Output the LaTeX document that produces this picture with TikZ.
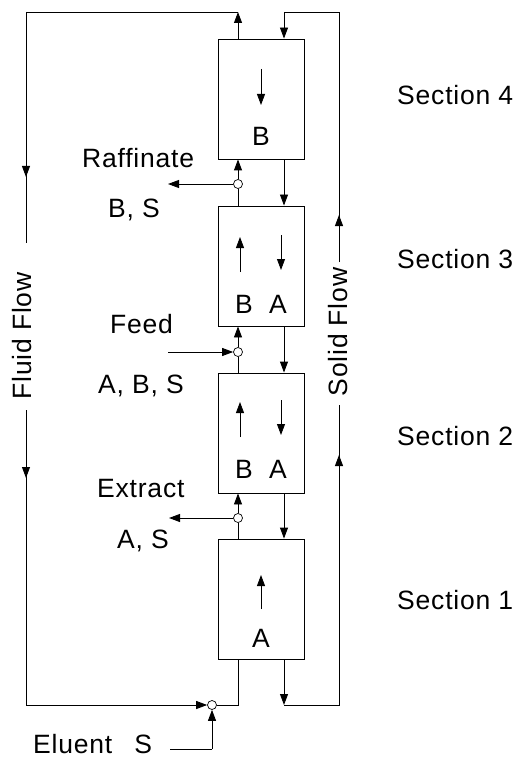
\documentclass[tikz,border=0pt]{standalone}
\usepackage{fontspec}
\setmainfont{Liberation Sans}[LetterSpace=3]
\usetikzlibrary{arrows.meta}
\tikzset{
  lbl/.style={font=\fontsize{26.5}{30}\selectfont, inner sep=0pt},
  col/.style={draw, line width=0.9pt, minimum width=86pt, minimum height=120pt, inner sep=0pt},
  junc/.style={circle, draw, fill=white, line width=0.7pt, minimum size=9pt, inner sep=0pt},
  pipe/.style={line width=0.9pt},
  flow/.style={line width=0.9pt, -{Triangle[length=11pt,width=8pt]}},
  inner/.style={line width=0.8pt, -{Triangle[length=11pt,width=8pt]}}
}
\begin{document}
\begin{tikzpicture}[x=1pt,y=-1pt]
\useasboundingbox (0,0) rectangle (515,759);

% columns (sections 4 to 1, top to bottom)
\node[col] (s4) at (261,99) {};
\node[col] (s3) at (261,266) {};
\node[col] (s2) at (261,433) {};
\node[col] (s1) at (261,599) {};

% ports between the sections
\node[junc] (raf) at (238,184) {};
\node[junc] (feed) at (238,352) {};
\node[junc] (ext) at (238,518) {};
\node[junc] (elu) at (212,705) {};

% loop corners and free ends
\coordinate (ftop) at (238,12);
\coordinate (ftl) at (26,12);
\coordinate (fa1) at (26,177);
\coordinate (fgap1) at (26,243);
\coordinate (fgap2) at (26,410);
\coordinate (fa2) at (26,478);
\coordinate (fbl) at (26,705);
\coordinate (fin) at (238,705);
\coordinate (sbot) at (284,705);
\coordinate (sbr) at (339,705);
\coordinate (sa1) at (339,455);
\coordinate (sgap1) at (339,405);
\coordinate (sgap2) at (339,262);
\coordinate (sa2) at (339,215);
\coordinate (str) at (339,12);
\coordinate (stop) at (284,12);
\coordinate (rafout) at (168,184);
\coordinate (feedin) at (168,352);
\coordinate (extout) at (169,518);
\coordinate (eluin) at (170,749);
\coordinate (elucorner) at (212,749);

% fluid stream through the columns
\draw[pipe] (elu) -- (fin) -- (fin |- s1.south);
\draw[pipe] (ext) -- (ext |- s1.north);
\draw[flow] (ext) -- (ext |- s2.south);
\draw[pipe] (feed) -- (feed |- s2.north);
\draw[flow] (feed) -- (feed |- s3.south);
\draw[pipe] (raf) -- (raf |- s3.north);
\draw[flow] (raf) -- (raf |- s4.south);
\draw[flow] (ftop |- s4.north) -- (ftop);

% fluid recycle loop
\draw[pipe] (ftop) -- (ftl) -- (fa1);
\draw[flow] (ftl) -- (fa1);
\draw[pipe] (fa1) -- (fgap1);
\draw[pipe] (fgap2) -- (fa2);
\draw[flow] (fgap2) -- (fa2);
\draw[pipe] (fa2) -- (fbl);
\draw[flow] (fbl) -- (elu);

% solid stream through the columns
\draw[flow] (stop) -- (stop |- s4.north);
\draw[flow] (stop |- s4.south) -- (stop |- s3.north);
\draw[flow] (stop |- s3.south) -- (stop |- s2.north);
\draw[flow] (stop |- s2.south) -- (stop |- s1.north);
\draw[flow] (stop |- s1.south) -- (sbot);

% solid recycle loop
\draw[pipe] (sbot) -- (sbr) -- (sa1);
\draw[flow] (sbr) -- (sa1);
\draw[pipe] (sa1) -- (sgap1);
\draw[pipe] (sgap2) -- (sa2);
\draw[flow] (sgap2) -- (sa2);
\draw[pipe] (sa2) -- (str) -- (stop);

% feed and product lines
\draw[flow] (raf) -- (rafout);
\draw[flow] (feedin) -- (feed);
\draw[flow] (ext) -- (extout);
\draw[pipe] (eluin) -- (elucorner);
\draw[flow] (elucorner) -- (elu);

% migration arrows inside the sections
\draw[inner] (261,69) -- (261,105);
\draw[inner] (240,272) -- (240,237);
\draw[inner] (281,235) -- (281,270);
\draw[inner] (240,437) -- (240,402);
\draw[inner] (281,400) -- (281,435);
\draw[inner] (261,609) -- (261,575);

% component letters
\node[lbl] (b4) at (261,136) {B};
\node[lbl] (b3) at (244,304) {B};
\node[lbl] (a3) at (278,304) {A};
\node[lbl] (b2) at (244,469) {B};
\node[lbl] (a2) at (278,469) {A};
\node[lbl] (a1) at (261,638) {A};

% stream labels
\node[lbl, anchor=base west] (traf) at (82,168) {Raffinate};
\node[lbl, anchor=base west] (trafc) at (108,218) {B, S};
\node[lbl, anchor=base west] (tfeed) at (110,333) {Feed};
\node[lbl, anchor=base west] (tfeedc) at (98,393) {A, B, S};
\node[lbl, anchor=base west] (text) at (97,497) {Extract};
\node[lbl, anchor=base west] (textc) at (117,548) {A, S};
\node[lbl, anchor=base west] (telu) at (33,753) {Eluent\hspace{22pt}S};

% section labels
\node[lbl, anchor=base west] (sec4) at (397,105) {Section 4};
\node[lbl, anchor=base west] (sec3) at (397,268) {Section 3};
\node[lbl, anchor=base west] (sec2) at (397,445) {Section 2};
\node[lbl, anchor=base west] (sec1) at (397,609) {Section 1};

% loop labels
\node[lbl, rotate=90] (tfluid) at (22,336) {Fluid Flow};
\node[lbl, rotate=90] (tsolid) at (338,332) {Solid Flow};
\end{tikzpicture}
\end{document}
